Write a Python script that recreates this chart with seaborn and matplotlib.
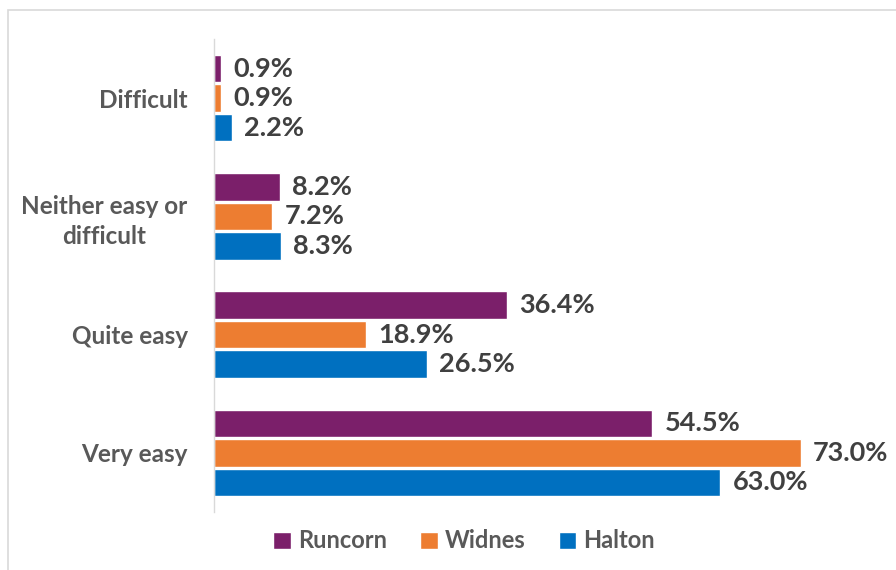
import matplotlib
matplotlib.use("Agg")
import matplotlib.pyplot as plt
from matplotlib.patches import Rectangle
import seaborn as sns
import pandas as pd

categories = ["Difficult", "Neither easy or\ndifficult", "Quite easy", "Very easy"]
runcorn = [0.9, 8.2, 36.4, 54.5]
widnes = [0.9, 7.2, 18.9, 73.0]
halton = [2.2, 8.3, 26.5, 63.0]
series = ["Runcorn", "Widnes", "Halton"]
colors = ["#7B1F6A", "#ED7D31", "#0070C0"]

rows = []
for name, vals in zip(series, [runcorn, widnes, halton]):
    for c, v in zip(categories, vals):
        rows.append({"category": c, "series": name, "value": v})
df = pd.DataFrame(rows)

sns.set_theme(style="white")
plt.rcParams["font.family"] = ["Lato", "DejaVu Sans"]
plt.rcParams["font.weight"] = "bold"

fig = plt.figure(figsize=(8.96, 5.70), dpi=100)
ax = fig.add_axes([214/896, 1-512/570, (857-214)/896, (512-39)/570])

sns.barplot(data=df, y="category", x="value", hue="series", order=categories,
            hue_order=series, palette=colors, orient="h", width=0.75, gap=0.07,
            saturation=1, ax=ax, legend=True, errorbar=None)

for cont in ax.containers:
    ax.bar_label(cont, fmt="%.1f%%", padding=9, fontsize=19.5, fontweight="bold",
                 color="#404040")

ax.set_xlim(0, 80)
ax.set_ylim(3.5, -0.5)
ax.set_xlabel("")
ax.set_ylabel("")
ax.set_xticks([])
for s in ["top", "right", "bottom"]:
    ax.spines[s].set_visible(False)
ax.spines["left"].set_color("#D9D9D9")
ax.spines["left"].set_linewidth(1.0)
ax.tick_params(axis="y", length=0, pad=19, labelsize=17.5, labelcolor="#595959")
for lab in ax.get_yticklabels():
    lab.set_fontweight("bold")
    lab.set_multialignment("center")
    lab.set_linespacing(1.35)

leg = ax.legend(loc="center", bbox_to_anchor=(464/896, 1-541/570),
                bbox_transform=fig.transFigure, ncol=3, frameon=False,
                fontsize=17, handlelength=0.75, handleheight=0.75,
                handletextpad=0.3, columnspacing=1.4)
for t in leg.get_texts():
    t.set_color("#595959")
    t.set_fontweight("bold")

fig.patches.append(Rectangle((8/896, -0.05), 1.0, 1 - 10/570 + 0.05,
                             transform=fig.transFigure, fill=False,
                             edgecolor="#D9D9D9", linewidth=1.2, clip_on=False))

fig.savefig("out.png", dpi=100)
